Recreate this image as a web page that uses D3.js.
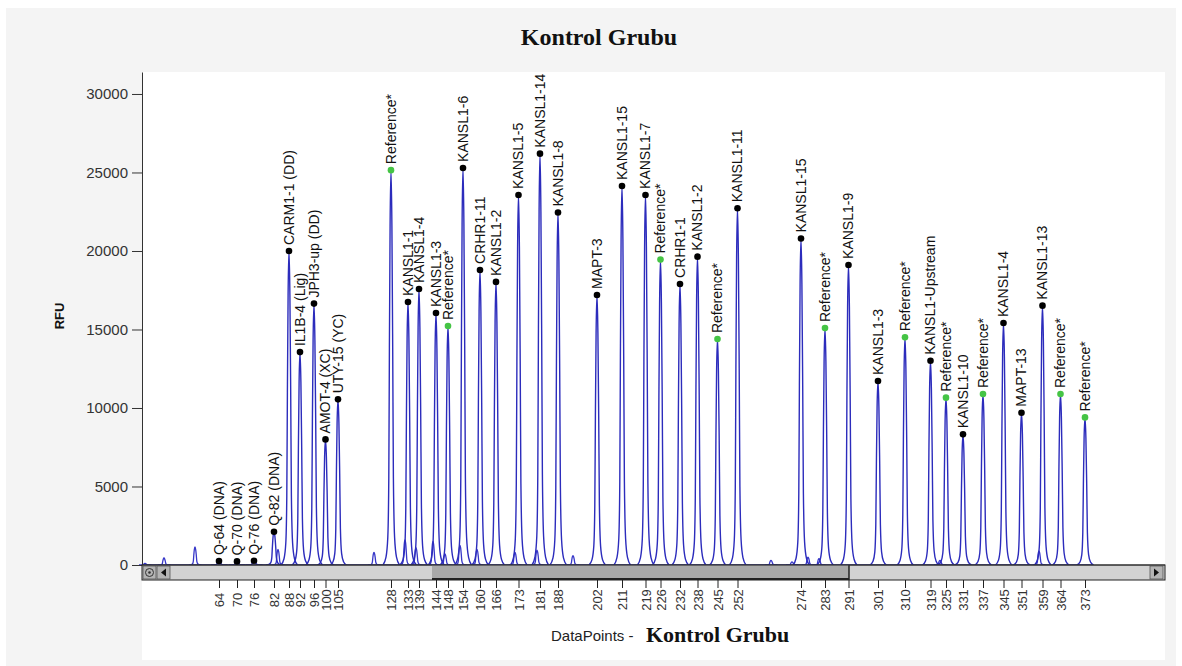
<!DOCTYPE html>
<html>
<head>
<meta charset="utf-8">
<script src="https://cdn.jsdelivr.net/npm/d3@7"></script>
<style>
body { margin: 0; background: #fff; }
svg { display: block; font-family: "Liberation Sans", Arial, sans-serif; }
</style>
</head>
<body>
<div id="chart"></div>
<script>
const width = 1182
const height = 666
const margin = { top: 72, left: 142, right: 17, bottom: 101 }
const plotRight = width - margin.right
const plotBottom = height - margin.bottom

// labelled peaks, positions in data points (scan index)
const peakNames = [
    'Q-64 (DNA)', 'Q-70 (DNA)', 'Q-76 (DNA)', 'Q-82 (DNA)', 'CARM1-1 (DD)', 'IL1B-4 (Lig)',
    'JPH3-up (DD)', 'AMOT-4 (XC)', 'UTY-15 (YC)', 'Reference*', 'KANSL1-1', 'KANSL1-4',
    'KANSL1-3', 'Reference*', 'KANSL1-6', 'CRHR1-11', 'KANSL1-2', 'KANSL1-5', 'KANSL1-14',
    'KANSL1-8', 'MAPT-3', 'KANSL1-15', 'KANSL1-7', 'Reference*', 'CRHR1-1', 'KANSL1-2',
    'Reference*', 'KANSL1-11', 'KANSL1-15', 'Reference*', 'KANSL1-9', 'KANSL1-3',
    'Reference*', 'KANSL1-Upstream', 'Reference*', 'KANSL1-10', 'Reference*', 'KANSL1-4',
    'MAPT-13', 'KANSL1-13', 'Reference*', 'Reference*'
]
const peakScan = [
    77, 95, 112, 132, 147, 158, 172, 183.5, 196, 249, 266, 277,
    294, 306, 321, 338, 354, 376.5, 398, 416, 455, 480, 503.5, 518.5,
    538, 555.5, 575.5, 595.5, 659, 683, 706.5, 736, 763, 788.5, 804, 821,
    841, 861.5, 879.5, 900.5, 918.5, 943
]
const peakRFU = [
    250, 230, 270, 2120, 20000, 13560, 16650, 8000, 10550, 25150, 16750, 17580,
    16050, 15220, 25290, 18790, 18030, 23570, 26200, 22450, 17200, 24140, 23570, 19450,
    17900, 19640, 14390, 22720, 20800, 15090, 19110, 11720, 14500, 13010, 10660, 8320,
    10890, 15410, 9700, 16520, 10890, 9400
]
// size (bp) shown as x tick label under each peak
const peakSize = [
    64, 70, 76, 82, 88, 92, 96, 100, 105, 128, 133, 139,
    144, 148, 154, 160, 166, 173, 181, 188, 202, 211, 219, 226,
    232, 238, 245, 252, 274, 283, 291, 301, 310, 319, 325, 331,
    337, 345, 351, 359, 364, 373
]

// unlabelled small peaks / stutter shoulders
const minorScan = [3, 22, 53, 136, 232, 263, 274, 291, 303, 318, 335, 373, 395, 431, 629, 650, 666, 677, 798, 897]
const minorRFU = [100, 450, 1150, 1000, 800, 1600, 1100, 1500, 700, 1250, 1000, 800, 950, 600, 300, 200, 500, 400, 300, 900]

const yTicks = [0, 5000, 10000, 15000, 20000, 25000, 30000]
const scanDomain = [0, 1023]
const thumbScan = [290, 707]

// peak outline template: [offset in data points, fraction of height]
const peakShape = [[-8, 0], [-5, 0.02], [-3.2, 0.07], [-2.2, 0.22], [-1.6, 0.55], [-0.9, 0.86], [0, 1],
    [0.9, 0.86], [1.7, 0.55], [2.4, 0.22], [3.6, 0.07], [5.5, 0.02], [8.5, 0]]

const peaks = peakNames.map((name, i) => ({
    name, scan: peakScan[i], rfu: peakRFU[i], size: peakSize[i], ref: name === 'Reference*'
}))
const minors = minorScan.map((s, i) => ({ scan: s, rfu: minorRFU[i] }))

const svg = d3.select('#chart').append('svg')
    .attr('width', width)
    .attr('height', height)

svg.append('rect').attr('x', 6).attr('y', 8).attr('width', width - 12).attr('height', height - 6)
    .attr('fill', '#f4f4f4')
svg.append('rect').attr('x', margin.left).attr('y', margin.top)
    .attr('width', plotRight - margin.left).attr('height', 588)
    .attr('fill', '#ffffff')

const x = d3.scaleLinear().domain(scanDomain).range([margin.left, plotRight])
const y = d3.scaleLinear().domain([0, 31400]).range([plotBottom, margin.top])

// title
svg.append('text')
    .attr('x', 599).attr('y', 45)
    .attr('text-anchor', 'middle')
    .style('font-family', '"Liberation Serif", "Times New Roman", serif')
    .style('font-weight', 'bold')
    .style('font-size', '24px')
    .attr('fill', '#111')
    .text('Kontrol Grubu')

// trace
const g = svg.append('g').attr('class', 'trace')
g.append('line')
    .attr('x1', x(0)).attr('x2', x(950))
    .attr('y1', y(0)).attr('y2', y(0))
    .attr('stroke', '#2e2ebf').attr('stroke-width', 1.4)

const peakLine = (p, k) => d3.line()
    .x(d => x(p.scan + d[0] * k))
    .y(d => y(p.rfu * d[1]))
    .curve(d3.curveMonotoneX)(peakShape)

g.selectAll('path.minor').data(minors).join('path')
    .attr('class', 'minor')
    .attr('d', d => peakLine(d, 0.75))
    .attr('fill', 'none')
    .attr('stroke', '#3636c8').attr('stroke-width', 1.3)

g.selectAll('path.major').data(peaks).join('path')
    .attr('class', 'major')
    .attr('d', d => peakLine(d, 1))
    .attr('fill', 'none')
    .attr('stroke', '#2c2cbc').attr('stroke-width', 1.4)

// y axis
const yAxis = svg.append('g')
    .attr('transform', `translate(${margin.left},0)`)
    .call(d3.axisLeft(y).tickValues(yTicks).tickFormat(d3.format('d'))
        .tickSize(10).tickSizeOuter(0).tickPadding(4))
yAxis.select('.domain').attr('stroke', '#333')
yAxis.selectAll('.tick line').attr('stroke', '#333')
yAxis.selectAll('.tick text')
    .style('font-size', '15px')
    .style('font-family', '"Liberation Sans", Arial, sans-serif')
    .attr('fill', '#333')

svg.append('text')
    .attr('transform', `translate(64,316) rotate(-90)`)
    .attr('text-anchor', 'middle')
    .style('font-weight', 'bold')
    .style('font-size', '13px')
    .attr('fill', '#111')
    .text('RFU')

// scrollbar under the plot
const sb = svg.append('g').attr('class', 'scrollbar')
const sbTop = plotBottom, sbH = 15
sb.append('rect').attr('x', margin.left).attr('y', sbTop)
    .attr('width', plotRight - margin.left).attr('height', sbH)
    .attr('fill', '#d2d2d2').attr('stroke', '#222').attr('stroke-width', 1)
sb.append('rect').attr('x', x(thumbScan[0])).attr('y', sbTop + 0.5)
    .attr('width', x(thumbScan[1]) - x(thumbScan[0])).attr('height', sbH - 1)
    .attr('fill', '#a9a9a9')
sb.append('line').attr('x1', x(thumbScan[0])).attr('x2', x(thumbScan[1]))
    .attr('y1', sbTop + sbH - 1).attr('y2', sbTop + sbH - 1)
    .attr('stroke', '#222').attr('stroke-width', 2)
sb.append('line').attr('x1', x(thumbScan[1])).attr('x2', x(thumbScan[1]))
    .attr('y1', sbTop).attr('y2', sbTop + sbH)
    .attr('stroke', '#222').attr('stroke-width', 1.5)
const buttons = [margin.left + 1, margin.left + 15, plotRight - 15]
sb.selectAll('rect.btn').data(buttons).join('rect')
    .attr('class', 'btn')
    .attr('x', d => d).attr('y', sbTop + 1)
    .attr('width', 13).attr('height', sbH - 2)
    .attr('fill', '#b4b4b4').attr('stroke', '#555').attr('stroke-width', 0.8)
sb.append('circle').attr('cx', buttons[0] + 6.5).attr('cy', sbTop + sbH / 2).attr('r', 4)
    .attr('fill', 'none').attr('stroke', '#333').attr('stroke-width', 1)
sb.append('circle').attr('cx', buttons[0] + 6.5).attr('cy', sbTop + sbH / 2).attr('r', 1.3)
    .attr('fill', '#333')
sb.append('path')
    .attr('d', `M${buttons[1] + 4},${sbTop + sbH / 2} l5,-4 v8 z`)
    .attr('fill', '#111')
sb.append('path')
    .attr('d', `M${buttons[2] + 9},${sbTop + sbH / 2} l-5,-4 v8 z`)
    .attr('fill', '#111')

// baseline (top edge of scrollbar)
svg.append('line')
    .attr('x1', margin.left).attr('x2', plotRight)
    .attr('y1', plotBottom).attr('y2', plotBottom)
    .attr('stroke', '#333').attr('stroke-width', 1.2)

// x axis with size labels
const xAxis = svg.append('g')
    .attr('transform', `translate(0,${sbTop + sbH})`)
    .call(d3.axisBottom(x).tickValues(peakScan).tickFormat((d, i) => peakSize[i]).tickSize(8))
xAxis.select('.domain').remove()
xAxis.selectAll('.tick line').attr('stroke', '#222')
xAxis.selectAll('.tick text')
    .attr('transform', 'rotate(-90)')
    .attr('x', -20).attr('y', 0).attr('dy', '0.35em')
    .attr('text-anchor', 'middle')
    .style('font-size', '13px')
    .style('font-family', '"Liberation Sans", Arial, sans-serif')
    .attr('fill', '#333')

svg.append('text')
    .attr('x', 551).attr('y', 641)
    .style('font-size', '15px')
    .attr('fill', '#222')
    .text('DataPoints -')
svg.append('text')
    .attr('x', 646).attr('y', 642)
    .style('font-family', '"Liberation Serif", "Times New Roman", serif')
    .style('font-weight', 'bold')
    .style('font-size', '22px')
    .attr('fill', '#111')
    .text('Kontrol Grubu')

// peak markers and labels
const marks = svg.append('g').attr('class', 'marks')
marks.selectAll('circle').data(peaks).join('circle')
    .attr('cx', d => x(d.scan))
    .attr('cy', d => y(d.rfu))
    .attr('r', 3.3)
    .attr('fill', d => d.ref ? '#45c445' : '#000')
marks.selectAll('text').data(peaks).join('text')
    .attr('transform', d => `translate(${x(d.scan)},${y(d.rfu) - 6}) rotate(-90)`)
    .attr('dy', '0.35em')
    .style('font-size', '14px')
    .attr('fill', '#111')
    .text(d => d.name)
</script>
</body>
</html>
